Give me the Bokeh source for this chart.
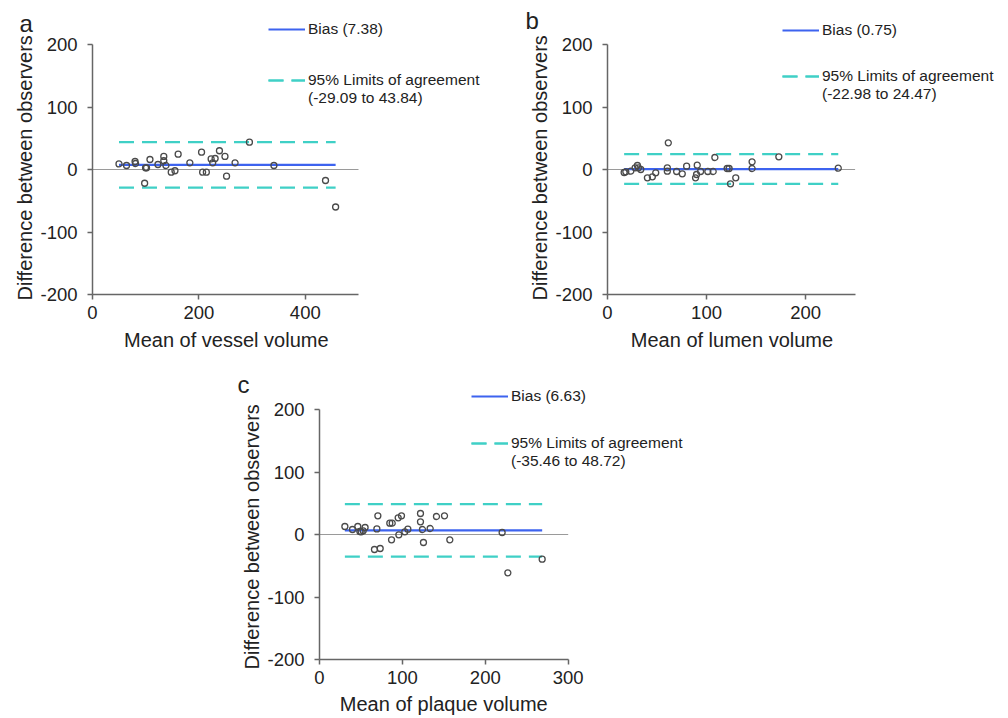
from bokeh.plotting import figure
from bokeh.models import Legend, LegendItem, FixedTicker, Range1d, Spacer, Title
from bokeh.layouts import column, row
from bokeh.embed import file_html
from bokeh.resources import INLINE

# ---------------- data ----------------
vessel_mean = [49.8, 64, 80, 81, 99.7, 101.6, 98, 108, 123, 134, 134, 138, 148, 155, 161,
               183, 205, 207, 214, 223, 226, 230.5, 238.6, 249, 252, 268, 295, 341, 438, 457]
vessel_diff = [9, 6.4, 12.8, 9.6, 2.7, 2.7, -22, 16, 8, 21, 14, 6.4, -4.3, -2, 24.5,
               10.7, 27.7, -4.3, -4.3, 17, 10.7, 17.6, 30, 21, -10.7, 10.7, 43.7, 6.4, -17.6, -60]
vessel_stats = [7.38, -29.09, 43.84]  # bias, lower, upper

lumen_mean = [16.8, 18.5, 23.5, 27.9, 30.2, 31.2, 33.6, 40.3, 45.3, 48.7, 60.4, 60.4, 61.4,
              69.8, 75.5, 79.9, 88.9, 90.6, 89.9, 94, 101.3, 106.7, 108.4, 120.8, 122.8,
              124.2, 129.5, 146, 146, 173, 233]
lumen_diff = [-4.8, -3.7, -2.7, 2.7, 6.4, 2.7, 0, -13.3, -11.7, -5.3, 2.7, -2.7, 42.7,
              -3.2, -6.9, 5.3, -13.3, 6.9, -8, -3.2, -3.2, -3.2, 19.2, 1.6, 1.6,
              -22.9, -13.3, 12.3, 1.6, 20.3, 2.1]
lumen_stats = [0.75, -22.98, 24.47]

plaque_mean = [30.6, 39.8, 46.2, 48.7, 50.3, 52.7, 55, 66.3, 69.2, 70.4, 73.2, 84.8, 87.7,
               86.9, 94.9, 95.7, 98.9, 102.9, 106.6, 121.8, 121.8, 124.2, 125.4, 133.5,
               141.1, 150.8, 157.2, 220.3, 227.2, 268.6]
plaque_diff = [12.8, 8, 12.8, 4.8, 4.3, 5.9, 11.2, -24, 9, 29.9, -22.4, 18.1, 18.1,
               -8.5, 26.7, -0.5, 29.9, 4.3, 8.5, 33.6, 20.3, 8, -12.8, 9.6,
               28.8, 29.9, -8.5, 3.2, -61.3, -39.5]
plaque_stats = [6.63, -35.46, 48.72]

y_ticks = [-200, -100, 0, 100, 200]
vessel_xticks = [0, 200, 400]
lumen_xticks = [0, 100, 200]
plaque_xticks = [0, 100, 200, 300]

FONT = "Liberation Sans"
BLUE = "#3d63ef"
TEAL = "#3fd0c6"
TXT = "#222222"


def make_legend(items, loc):
    return Legend(items=items, location=loc, orientation="vertical", glyph_width=37,
                  glyph_height=16, label_standoff=3, spacing=0, padding=0, margin=0,
                  border_line_color=None, background_fill_alpha=0, label_text_font=FONT,
                  label_text_font_size="15.5px", label_text_color=TXT)


def panel(letter, xs, ys, stats, xlabel, xticks, xmax, fig_w, fig_h,
          b_left, b_top, b_bottom, b_right, px_per_unit, y200_px,
          leg1_loc, leg2_loc, letter_off, letter_standoff, xlab_off, xlab_standoff, ylab_off):
    bias, lo, hi = stats
    x_end = (fig_w - b_left - b_right) / px_per_unit
    y_end = 200 + (y200_px - b_top) / 0.625
    p = figure(width=fig_w, height=fig_h, output_backend="svg", toolbar_location=None,
               x_range=Range1d(0, x_end), y_range=Range1d(-200, y_end),
               min_border_left=b_left, min_border_right=b_right,
               min_border_top=b_top, min_border_bottom=b_bottom)
    p.grid.visible = False
    p.outline_line_color = None
    p.background_fill_color = "white"
    p.border_fill_color = "white"

    # panel letter
    p.title.text = letter
    p.title.align = "left"
    p.title.offset = letter_off
    p.title.standoff = letter_standoff
    p.title.text_font = FONT
    p.title.text_font_size = "24px"
    p.title.text_font_style = "normal"
    p.title.text_color = TXT

    # zero line
    p.line([0, xmax], [0, 0], line_color="#9a9a9a", line_width=1)
    x0, x1 = min(xs), max(xs)
    lo_r = p.line([x0, x1], [lo, lo], line_color=TEAL, line_width=2.2, line_dash="15 8")
    hi_r = p.line([x0, x1], [hi, hi], line_color=TEAL, line_width=2.2, line_dash="15 8")
    bias_r = p.line([x0, x1], [bias, bias], line_color=BLUE, line_width=2.2)
    blank_r = p.line([], [], line_alpha=0)
    p.scatter(xs, ys, size=6, marker="circle", fill_alpha=0, line_color="#4a4a4a",
              line_width=1.3)

    for ax in (p.xaxis[0], p.yaxis[0]):
        ax.axis_line_color = "#666666"
        ax.axis_line_width = 1.5
        ax.major_tick_line_color = "#666666"
        ax.major_tick_line_width = 1.5
        ax.major_tick_in = 0
        ax.major_tick_out = 5
        ax.minor_tick_line_color = None
        ax.major_label_text_font = FONT
        ax.major_label_text_font_size = "18.5px"
        ax.major_label_text_color = TXT
    p.xaxis.ticker = FixedTicker(ticks=xticks)
    p.yaxis.ticker = FixedTicker(ticks=y_ticks)
    p.yaxis.major_label_overrides = {t: str(t) for t in y_ticks}
    p.xaxis.bounds = (0, xmax)
    p.yaxis.bounds = (-200, 200)
    p.xaxis.major_label_standoff = 6
    p.yaxis.major_label_standoff = 10

    # axis titles, placed under / beside the drawn axis extent
    p.add_layout(Title(text=xlabel, align="left", offset=xlab_off, standoff=xlab_standoff,
                       text_font=FONT, text_font_size="20px", text_font_style="normal",
                       text_color=TXT), "below")
    p.add_layout(Title(text="Difference between observers", align="left", offset=ylab_off,
                       standoff=3, text_font=FONT, text_font_size="20px",
                       text_font_style="normal", text_color=TXT), "left")

    p.add_layout(make_legend([LegendItem(label=f"Bias ({bias:.2f})", renderers=[bias_r])],
                             leg1_loc), "center")
    p.add_layout(make_legend([
        LegendItem(label="95% Limits of agreement", renderers=[lo_r, hi_r]),
        LegendItem(label=f"({lo:.2f} to {hi:.2f})", renderers=[blank_r]),
    ], leg2_loc), "center")
    return p


pa = panel("a", vessel_mean, vessel_diff, vessel_stats, "Mean of vessel volume",
           vessel_xticks, 500, 500, 360, 92, 10, 66, 5, 0.532, 44,
           (176, 256), (176, 187), -73, -53, 31.5, 10, -6)
pb = panel("b", lumen_mean, lumen_diff, lumen_stats, "Mean of lumen volume",
           lumen_xticks, 250, 508, 360, 107, 10, 66, 5, 0.9904, 44,
           (175, 255), (175, 191), -82, -47, 23.3, 10, -6)
pc = panel("c", plaque_mean, plaque_diff, plaque_stats, "Mean of plaque volume",
           plaque_xticks, 300, 500, 358, 99, 10, 59, 5, 0.829, 49,
           (152, 254), (152, 189), -82, -55, 20.3, 8, -10)

layout = column(row(pa, pb), row(Spacer(width=220, height=358), pc))
open("out.html", "w").write(file_html(layout, INLINE))
